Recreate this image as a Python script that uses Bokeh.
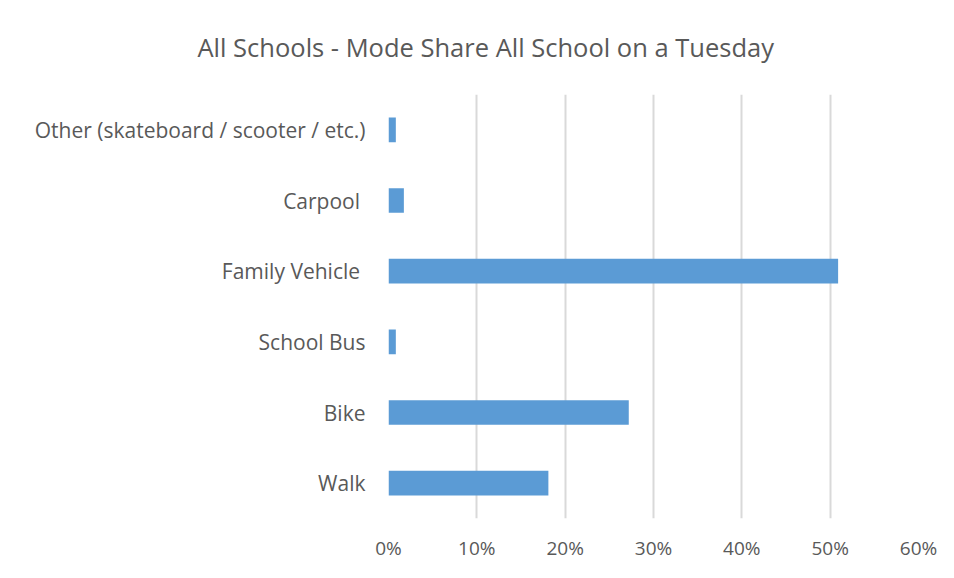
from bokeh.plotting import figure
from bokeh.models import ColumnDataSource, FactorRange, NumeralTickFormatter, FixedTicker, Title
from bokeh.embed import file_html
from bokeh.resources import INLINE

categories = ["Walk", "Bike", "School Bus", "Family Vehicle ", "Carpool ", "Other (skateboard / scooter / etc.)"]
shares = [0.181, 0.272, 0.0083, 0.509, 0.0174, 0.0083]
x_ticks = [0, 0.1, 0.2, 0.3, 0.4, 0.5, 0.6]

FONT = "Open Sans"
TXT = "#595959"

src = ColumnDataSource(dict(cat=categories, val=shares))

p = figure(width=946, height=570, output_backend="svg", toolbar_location=None,
           y_range=FactorRange(*categories, range_padding=0), x_range=(0, 0.6),
           min_border_left=388, min_border_right=28, min_border_top=93, min_border_bottom=52)

p.hbar(y="cat", right="val", left=0, height=0.35, source=src, color="#5B9BD5", line_color=None)

t = Title(text="All Schools - Mode Share All School on a Tuesday", align="left", offset=-191,
          vertical_align="top",
          text_font=FONT, text_font_size="25.5px", text_color=TXT, text_font_style="normal",
          standoff=58)
p.title = t

p.outline_line_color = None
p.background_fill_color = "white"
p.border_fill_color = "white"

p.xaxis.ticker = FixedTicker(ticks=x_ticks)
p.xaxis.formatter = NumeralTickFormatter(format="0%")
p.xaxis.axis_line_color = None
p.xaxis.major_tick_line_color = None
p.xaxis.minor_tick_line_color = None
p.xaxis.major_label_text_font = FONT
p.xaxis.major_label_text_font_size = "19px"
p.xaxis.major_label_text_color = TXT
p.xaxis.major_label_standoff = 10

p.yaxis.axis_line_color = None
p.yaxis.major_tick_line_color = None
p.yaxis.major_label_text_font = FONT
p.yaxis.major_label_text_font_size = "21px"
p.yaxis.major_label_text_color = TXT
p.yaxis.major_label_standoff = 17

p.xgrid.grid_line_color = "#D9D9D9"
p.xgrid.grid_line_width = 2
p.ygrid.grid_line_color = None

open("out.html", "w").write(file_html(p, INLINE))
